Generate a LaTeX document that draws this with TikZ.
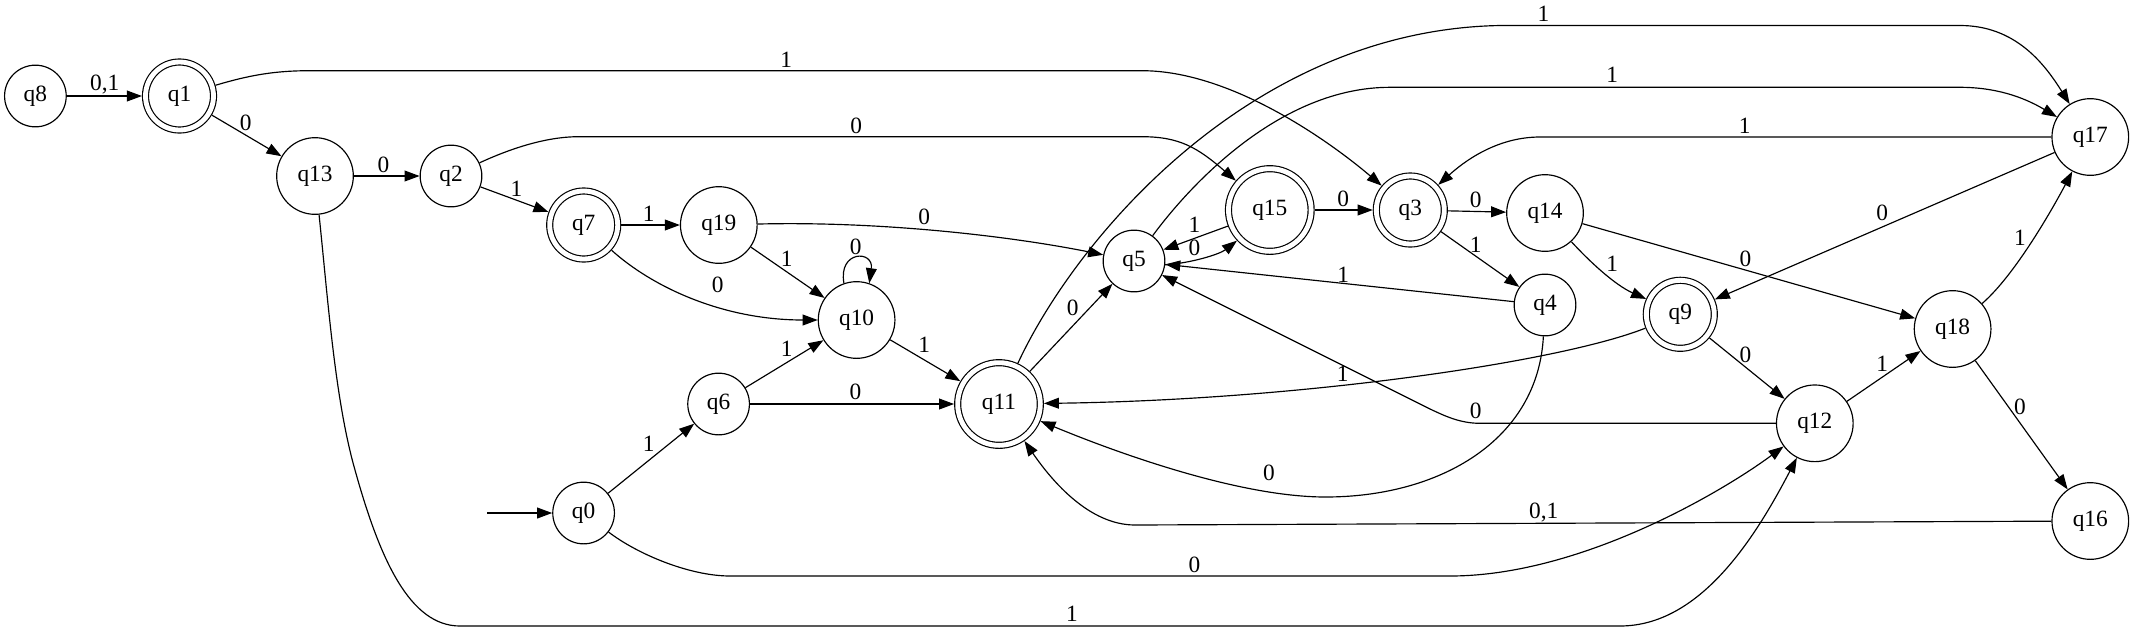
\documentclass[tikz,border=0pt]{standalone}
\usepackage{fontspec}
\setmainfont{Liberation Serif}
\usetikzlibrary{arrows.meta}
\begin{document}
\begin{tikzpicture}[x=0.6pt,y=-0.6pt,
  every node/.style={font=\fontsize{14}{16}\selectfont},
  st/.style={circle,draw,line width=0.7pt,minimum size=37pt,inner sep=0pt},
  stw/.style={st,minimum size=46pt},
  acc/.style={circle,draw,line width=0.7pt,double,double distance=2.9pt,inner sep=0pt,outer sep=2.15pt,minimum size=40.8pt},
  accw/.style={acc,minimum size=49.6pt},
  tr/.style={draw,line width=0.7pt,-{Triangle[length=9pt,width=6.5pt]}},
  lb/.style={inner sep=0pt}
]
\fill[white] (0,0) rectangle (2134,632);
\useasboundingbox (0,0) rectangle (2134,632);

% states
\node[st]   (q8)  at (35.4,96)     {q8};
\node[acc]  (q1)  at (179.5,96)    {q1};
\node[stw]  (q13) at (315,176)     {q13};
\node[st]   (q2)  at (451,176)     {q2};
\node[acc]  (q7)  at (583.7,225)   {q7};
\node[stw]  (q19) at (718.8,225)   {q19};
\node[stw]  (q10) at (856.6,320)   {q10};
\node[st]   (q6)  at (718.6,404)   {q6};
\node[st]   (q0)  at (583.6,513)   {q0};
\node[accw] (q11) at (999,404)     {q11};
\node[st]   (q5)  at (1134,261)    {q5};
\node[accw] (q15) at (1269.8,210)  {q15};
\node[acc]  (q3)  at (1410.3,210)  {q3};
\node[stw]  (q14) at (1545,213)    {q14};
\node[st]   (q4)  at (1545,305)    {q4};
\node[acc]  (q9)  at (1680.3,314.3){q9};
\node[stw]  (q17) at (2090.3,137)  {q17};
\node[stw]  (q18) at (1952.6,329)  {q18};
\node[stw]  (q12) at (1814.8,423.3){q12};
\node[stw]  (q16) at (2090.3,521)  {q16};
\coordinate (init) at (487,513);

% transitions
\draw[tr] (init) -- (q0);
\draw[tr] (q8) -- (q1);
\draw[tr] (q1) -- (q13);
\draw[tr] (q1) .. controls (250,75) and (275,70.7) .. (310,70.7) -- (1142,70.7) .. controls (1230,70.7) and (1328,140) .. (q3);
\draw[tr] (q13) -- (q2);
\draw[tr] (q2) .. controls (508.6,149.4) and (545,136.7) .. (578.5,136.7) -- (1142,136.7) .. controls (1180,136.7) and (1198,148) .. (q15);
\draw[tr] (q2) -- (q7);
\draw[tr] (q7) -- (q19);
\draw[tr] (q7) .. controls (650,285) and (720,320) .. (q10);
\draw[tr] (q19) .. controls (880,221) and (1010,236) .. (q5);
\draw[tr] (q19) -- (q10);
\draw[tr] (q10.109) .. controls (838,250) and (874,250) .. (q10.71);
\draw[tr] (q6) -- (q10);
\draw[tr] (q10) -- (q11);
\draw[tr] (q6) -- (q11);
\draw[tr] (q0) -- (q6);
\draw[tr] (q0) .. controls (638,554.5) and (690,576) .. (730,576) -- (1450,576) .. controls (1580,576) and (1722,492) .. (q12);
\draw[tr] (q13) .. controls (328,300) and (335,400) .. (355,470) .. controls (380,560) and (410,626) .. (460,626) -- (1620,626) .. controls (1700,626) and (1755,538) .. (q12);
\draw[tr] (q11) -- (q5);
\draw[tr] (q11) .. controls (1075,240) and (1250,30) .. (1500,25.5) -- (1960,25.5) .. controls (2015,25.5) and (2044,63) .. (q17);
\draw[tr] (q5) .. controls (1190,185) and (1280,87.3) .. (1390,87.3) -- (1960,87.3) .. controls (1995,87.3) and (2023,96.7) .. (q17);
\draw[tr] (q17) -- (1540,137) .. controls (1495,137) and (1462,163.4) .. (q3);
\draw[tr] (q17) -- (q9);
\draw[tr] (q15) -- (q3);
\draw[tr] (q15.201) -- (q5.21);
\draw[tr] (q5.-7) .. controls (1192,263) and (1220,254) .. (q15.223);
\draw[tr] (q3) -- (q14);
\draw[tr] (q3) -- (q4);
\draw[tr] (q4) -- (q5);
\draw[tr] (q14) .. controls (1590,262) and (1615,285) .. (q9);
\draw[tr] (q14) -- (q18);
\draw[tr] (q9) .. controls (1560,362) and (1300,400) .. (q11);
\draw[tr] (q9) -- (q12);
\draw[tr] (q12) -- (1480,423.3) .. controls (1460,423.3) and (1445,416) .. (1430,409) -- (q5);
\draw[tr] (q4) .. controls (1538,440) and (1440,497) .. (1325.5,497) .. controls (1240,497) and (1120,454) .. (q11);
\draw[tr] (q12) -- (q18);
\draw[tr] (q18) -- (q16);
\draw[tr] (q18) .. controls (2018,272.5) and (2059,196.7) .. (q17);
\draw[tr] (q16) -- (1135,525) .. controls (1090,525) and (1053,482.6) .. (q11);

% labels
\node[lb] (l1)  at (104.7,85)    {0,1};
\node[lb] (l2)  at (245.6,123.3) {0};
\node[lb] (l3)  at (786.3,60)    {1};
\node[lb] (l4)  at (383.4,165)   {0};
\node[lb] (l5)  at (856.1,126)   {0};
\node[lb] (l6)  at (516.5,188.3) {1};
\node[lb] (l7)  at (648.8,213.3) {1};
\node[lb] (l8)  at (717.7,285)   {0};
\node[lb] (l9)  at (924.3,216.7) {0};
\node[lb] (l10) at (786.6,259)   {1};
\node[lb] (l11) at (855.8,246.7) {0};
\node[lb] (l12) at (786.6,348.3) {1};
\node[lb] (l13) at (924.3,345)   {1};
\node[lb] (l14) at (855.4,392.3) {0};
\node[lb] (l15) at (648.8,443.3) {1};
\node[lb] (l16) at (1194.5,565)  {0};
\node[lb] (l17) at (1071.9,614)  {1};
\node[lb] (l18) at (1072.8,308.3){0};
\node[lb] (l19) at (1543.4,14)   {1};
\node[lb] (l20) at (1612.3,75)   {1};
\node[lb] (l21) at (1744.6,126)  {1};
\node[lb] (l22) at (1882.3,212.7){0};
\node[lb] (l23) at (1343.3,199.3){0};
\node[lb] (l24) at (1194.4,225)  {1};
\node[lb] (l25) at (1194.4,248.3){0};
\node[lb] (l26) at (1475.7,200)  {0};
\node[lb] (l27) at (1475.7,244.3){1};
\node[lb] (l28) at (1343.3,275)  {1};
\node[lb] (l29) at (1612.3,263.3){1};
\node[lb] (l30) at (1745.5,259.3){0};
\node[lb] (l31) at (1342.8,373.3){1};
\node[lb] (l32) at (1745.5,355)  {0};
\node[lb] (l33) at (1475.6,411)  {0};
\node[lb] (l34) at (1269,473.3)  {0};
\node[lb] (l35) at (1882.3,363.3){1};
\node[lb] (l36) at (2020,407.3)  {0};
\node[lb] (l37) at (2020,237.3)  {1};
\node[lb] (l38) at (1543.7,512.7){0,1};
\end{tikzpicture}
\end{document}
